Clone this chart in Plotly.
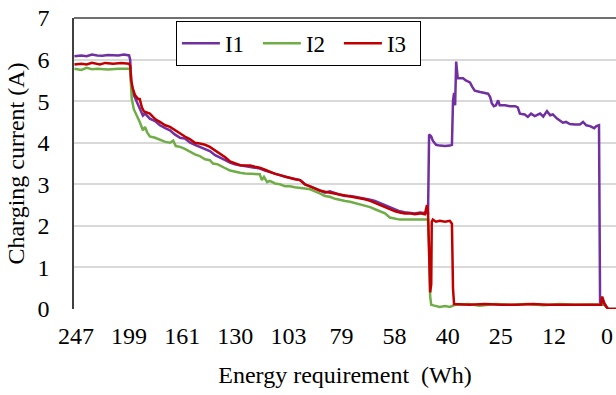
import plotly.graph_objects as go

# Tick labels (energy requirement, Wh) placed at equally spaced sample indices
tick_labels = ["247", "199", "161", "130", "103", "79", "58", "40", "25", "12", "0"]
tick_positions = [0, 100, 200, 300, 400, 500, 600, 700, 800, 900, 1000]

# I1 (purple)
i1_x = [-3, 10, 20, 30, 40, 50, 60, 70, 80, 90, 100, 102,
        104, 107, 115, 120, 126, 130, 139, 149, 158, 168, 177, 186, 196, 205, 215, 224, 233, 243,
        252, 262, 271, 281, 290, 299, 309, 328, 346, 356, 365, 375, 384, 394, 403, 412, 422, 431,
        441, 450, 459, 469, 478, 488, 497, 507, 516, 525, 535, 544, 554, 563, 572, 582, 591, 601,
        610, 619, 629, 638, 648, 657, 663,
        665, 669, 672, 678, 685, 695, 704, 708, 710, 712, 714, 716, 717, 719, 723, 729, 734, 742,
        746, 751, 761, 770, 776, 780, 783, 787, 791, 795, 798, 808, 817, 827, 832, 836, 845, 851,
        857, 864, 874, 880, 887, 893, 898, 906, 912, 917, 923, 930, 940, 949, 955, 961, 968, 976,
        980, 985, 987, 991, 996, 1002, 1017]
i1_y = [6.08, 6.1, 6.08, 6.12, 6.1, 6.09, 6.11, 6.1, 6.1, 6.12, 6.1, 6.0,
        5.45, 5.2, 4.95, 4.8, 4.65, 4.7, 4.58, 4.52, 4.42, 4.35, 4.3, 4.2, 4.12, 4.1, 4.0, 3.95, 3.9, 3.85,
        3.8, 3.7, 3.65, 3.58, 3.52, 3.48, 3.46, 3.42, 3.38, 3.33, 3.3, 3.25, 3.22, 3.18, 3.15, 3.12, 3.1, 3.0,
        2.95, 2.9, 2.85, 2.8, 2.83, 2.78, 2.75, 2.72, 2.72, 2.7, 2.68, 2.65, 2.63, 2.6, 2.55, 2.5, 2.45, 2.4,
        2.35, 2.33, 2.32, 2.3, 2.32, 2.3, 2.3,
        4.2, 4.15, 4.05, 3.95, 3.93, 3.92, 3.93, 3.95, 5.0, 5.2, 4.9, 5.95, 5.8, 5.55, 5.55, 5.55, 5.5, 5.45,
        5.35, 5.25, 5.22, 5.2, 5.18, 5.1, 4.95, 4.88, 4.9, 5.02, 4.9, 4.9, 4.88, 4.88, 4.85, 4.7, 4.68, 4.62,
        4.7, 4.64, 4.7, 4.63, 4.76, 4.66, 4.68, 4.58, 4.52, 4.48, 4.5, 4.45, 4.44, 4.44, 4.5, 4.42, 4.4, 4.35,
        4.4, 4.42, 0.15, 0.12, 0.12, 0.0, 0.0]

# I2 (green)
i2_x = [-3, 10, 20, 30, 40, 60, 80, 100, 102,
        104, 105, 109, 115, 120, 126, 130, 134, 139, 149, 158, 168, 177, 183, 188, 196, 205, 215, 224,
        233, 243, 252, 258, 267, 275, 282, 290, 299, 309, 318, 328, 337, 346, 350, 354, 360, 365, 375,
        384, 394, 403, 412, 422, 431, 441, 450, 459, 469, 478, 488, 497, 507, 516, 525, 535, 544, 554,
        563, 572, 582, 591, 601, 610, 629, 648, 663,
        665, 667, 669, 676, 685, 695, 704, 714, 740, 760, 790, 820, 850, 880, 910, 940, 970, 996, 1002, 1017]
i2_y = [5.78, 5.75, 5.8, 5.77, 5.78, 5.76, 5.78, 5.78, 5.75,
        5.4, 5.05, 4.8, 4.65, 4.5, 4.3, 4.38, 4.25, 4.15, 4.12, 4.08, 4.02, 4.0, 4.05, 3.92, 3.9, 3.85, 3.78, 3.72,
        3.68, 3.6, 3.58, 3.5, 3.48, 3.42, 3.38, 3.33, 3.3, 3.28, 3.26, 3.25, 3.25, 3.24, 3.1, 3.18, 3.05, 3.08, 3.02,
        3.0, 2.95, 2.95, 2.93, 2.92, 2.9, 2.88, 2.82, 2.78, 2.72, 2.7, 2.65, 2.62, 2.6, 2.58, 2.55, 2.5, 2.48, 2.45,
        2.4, 2.35, 2.3, 2.2, 2.18, 2.15, 2.15, 2.15, 2.15,
        1.5, 0.3, 0.1, 0.08, 0.05, 0.07, 0.05, 0.1, 0.12, 0.08, 0.12, 0.1, 0.12, 0.09, 0.12, 0.1, 0.11, 0.1, 0.0, 0.0]

# I3 (red)
i3_x = [-3, 10, 20, 30, 45, 55, 70, 85, 100, 102,
        104, 107, 111, 117, 120, 124, 128, 134, 139, 145, 151, 158, 168, 177, 186, 196, 205, 215, 224,
        233, 243, 252, 262, 271, 281, 290, 299, 309, 318, 328, 337, 346, 356, 365, 375, 384, 394, 403,
        412, 422, 431, 441, 450, 459, 469, 478, 488, 497, 507, 516, 525, 535, 544, 554, 563, 572, 582,
        591, 601, 610, 619, 629, 638, 648, 657, 661, 663,
        667, 669, 670, 672, 678, 685, 695, 704, 708, 710, 712, 740, 770, 800, 830, 860, 890, 920, 950,
        989, 991, 996, 1002, 1017]
i3_y = [5.88, 5.9, 5.88, 5.92, 5.88, 5.92, 5.9, 5.92, 5.9, 5.85,
        5.5, 5.3, 5.15, 5.05, 5.05, 4.85, 4.75, 4.73, 4.7, 4.62, 4.55, 4.5, 4.42, 4.38, 4.3, 4.22, 4.15, 4.08, 4.0,
        3.98, 3.95, 3.9, 3.82, 3.75, 3.65, 3.55, 3.5, 3.46, 3.45, 3.45, 3.42, 3.4, 3.35, 3.3, 3.25, 3.22, 3.18, 3.15,
        3.12, 3.1, 3.0, 2.95, 2.9, 2.85, 2.82, 2.8, 2.78, 2.75, 2.72, 2.7, 2.68, 2.66, 2.64, 2.6, 2.55, 2.5, 2.45,
        2.4, 2.35, 2.32, 2.3, 2.3, 2.28, 2.3, 2.28, 2.5, 2.3,
        0.4, 0.6, 2.1, 2.15, 2.1, 2.12, 2.1, 2.12, 2.05, 0.5, 0.12, 0.1, 0.12, 0.1, 0.1, 0.12, 0.1, 0.1, 0.11,
        0.1, 0.3, 0.1, 0.0, 0.0]

FONT = "Liberation Serif, Times New Roman, serif"

fig = go.Figure()
fig.add_trace(go.Scatter(x=i1_x, y=i1_y, mode="lines", name="I1",
                         line=dict(color="#7030a0", width=2.5)))
fig.add_trace(go.Scatter(x=i2_x, y=i2_y, mode="lines", name="I2",
                         line=dict(color="#70ad47", width=2.5)))
fig.add_trace(go.Scatter(x=i3_x, y=i3_y, mode="lines", name="I3",
                         line=dict(color="#c00000", width=2.5)))

fig.update_layout(
    width=616, height=395,
    margin=dict(l=74, r=0, t=18, b=86),
    paper_bgcolor="white", plot_bgcolor="white",
    font=dict(family=FONT, size=24, color="black"),
    showlegend=True,
    legend=dict(orientation="h", x=0.188, y=0.99, xanchor="left", yanchor="top",
                bordercolor="black", borderwidth=1, bgcolor="white",
                font=dict(family=FONT, size=23, color="black"),
                entrywidth=28, entrywidthmode="pixels",
                tracegroupgap=0, itemwidth=38),
    xaxis=dict(range=[-3.8, 1017], tickvals=tick_positions, ticktext=tick_labels,
               showgrid=False, zeroline=False, showline=False,
               ticks="", ticklabelstandoff=10,
               title=dict(text="Energy requirement\u00a0 (Wh)", font=dict(family=FONT, size=24), standoff=18)),
    yaxis=dict(range=[0, 7], dtick=1, showgrid=True, gridcolor="#d9d9d9", gridwidth=1.5,
               zeroline=False, showline=True, linecolor="#404040", linewidth=1.5,
               ticks="", ticklabelstandoff=18,
               title=dict(text="Charging current (A)", font=dict(family=FONT, size=24), standoff=6)),
    shapes=[dict(type="line", xref="paper", yref="paper", x0=0, x1=1, y0=1, y1=1,
                 line=dict(color="#404040", width=1.5))],
)

fig.write_html("out.html")
